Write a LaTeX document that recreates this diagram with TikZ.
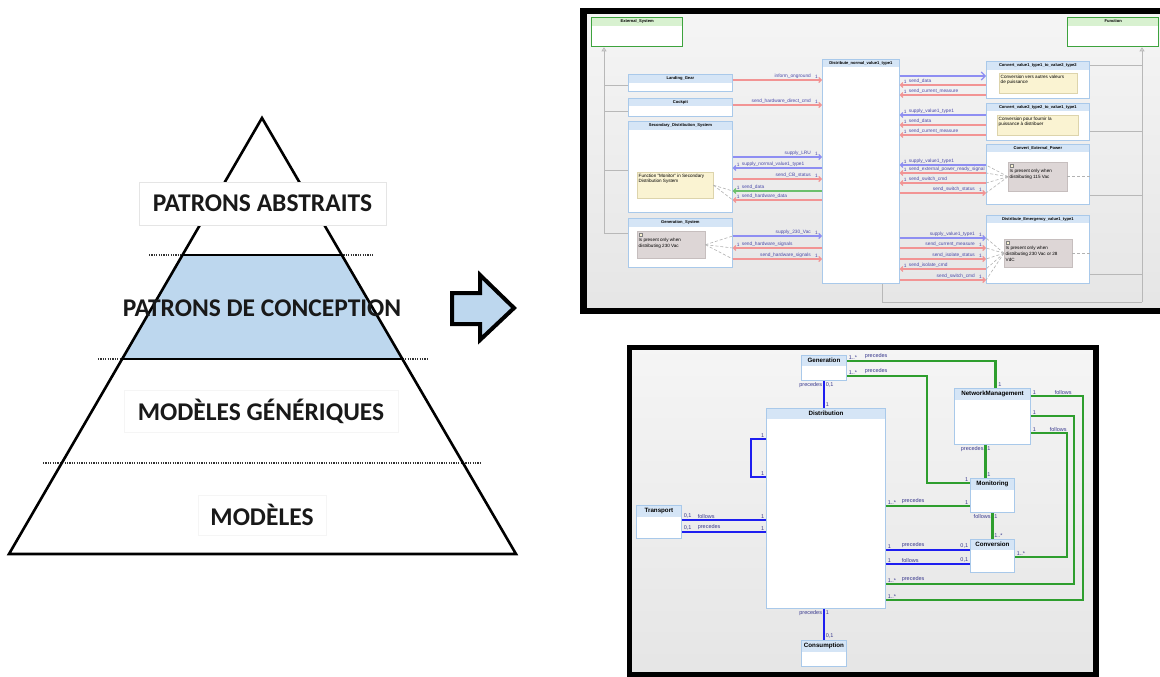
\documentclass[tikz,border=0pt]{standalone}
\usepackage{fontspec}
\setmainfont{Liberation Sans}
\newfontfamily\pyrfont{Carlito}
\usetikzlibrary{arrows.meta,calc}

\definecolor{pyrblue}{HTML}{BDD7EE}
\definecolor{clsline}{HTML}{A9C9EA}
\definecolor{clsbar}{HTML}{D5E5F6}
\definecolor{sysgreen}{HTML}{3DA33D}
\definecolor{sysbar}{HTML}{D8F1D0}
\definecolor{noteY}{HTML}{FAF3D2}
\definecolor{noteYline}{HTML}{DDD4AC}
\definecolor{noteG}{HTML}{DDD6D6}
\definecolor{noteGline}{HTML}{C6BEBE}
\definecolor{sred}{HTML}{F29494}
\definecolor{sblue}{HTML}{8E8EF2}
\definecolor{sgreen}{HTML}{6CBF6C}
\definecolor{labblue}{HTML}{4A4AAA}
\definecolor{inhgray}{HTML}{B8B8B8}
\definecolor{bblue}{HTML}{1E1EF0}
\definecolor{bgreen}{HTML}{2E9E2E}
\definecolor{navy}{HTML}{3A3A8E}

\newcommand{\sigfont}{\fontsize{4.8}{5.2}\selectfont}

\tikzset{
  % pyramid
  pyr/.style={draw=black, line width=2.6pt, line join=miter},
  lvlrule/.style={draw=black, line width=2.4pt},
  sep/.style={draw=black!80, line width=1.2pt, dash pattern=on 1.2pt off 1.2pt},
  lvl/.style={draw=gray!20, fill=white, inner sep=0pt, text=black!90,
    font=\pyrfont\bfseries\fontsize{25.5}{30}\selectfont},
  lvltxt/.style={inner sep=0pt, text=black!90, font=\pyrfont\bfseries\fontsize{25.5}{30}\selectfont},
  bigarrow/.style={draw=black, line width=4pt, fill=pyrblue, line join=miter},
  % screenshots
  frame/.style={draw=black, top color=white!96!black, bottom color=black!10},
  tcls/.style={draw=clsline, fill=white, line width=0.7pt, anchor=north west, inner sep=0pt},
  tcls bar/.style={fill=clsbar},
  tcls title/.style={inner sep=0pt, font=\bfseries\fontsize{4.1}{4.5}\selectfont},
  tsys/.style={draw=sysgreen, fill=white, line width=1.3pt, anchor=north west, inner sep=0pt},
  tsys bar/.style={fill=sysbar},
  tsys title/.style={inner sep=0pt, font=\bfseries\fontsize{4.1}{4.5}\selectfont},
  bcls/.style={draw=clsline, fill=white, line width=0.9pt, anchor=north west, inner sep=0pt},
  bcls bar/.style={fill=clsbar},
  bcls title/.style={inner sep=0pt, font=\bfseries\fontsize{6.2}{7}\selectfont},
  ynote/.style={draw=noteYline, fill=noteY, line width=0.4pt, anchor=north west, inner sep=0pt},
  gnote/.style={draw=noteGline, fill=noteG, line width=0.4pt, anchor=north west, inner sep=0pt},
  ntext/.style={anchor=north west, align=left, inner sep=1.5pt, font=\fontsize{4.6}{5.8}\selectfont},
  icon/.style={draw=black!50, fill=noteY, line width=0.3pt},
  sig/.style={draw=#1, line width=1.1pt, -{Straight Barb[length=2.5pt,width=5pt]}},
  labR/.style={anchor=south east, xshift=-10pt, inner sep=0.6pt, text=labblue, font=\sigfont},
  multR/.style={anchor=south east, xshift=-3pt, inner sep=0.6pt, text=labblue, font=\sigfont},
  labL/.style={anchor=south west, xshift=8pt, inner sep=0.6pt, text=labblue, font=\sigfont},
  multL/.style={anchor=south west, xshift=3pt, inner sep=0.6pt, text=labblue, font=\sigfont},
  inh/.style={draw=inhgray, line width=0.8pt},
  inhtip/.style={inh, -{Triangle[open, length=4pt, width=5pt]}},
  nlink/.style={draw=black!30, line width=0.6pt, dash pattern=on 3pt off 2pt},
  blink/.style={draw=bblue, line width=2.2pt},
  glink/.style={draw=bgreen, line width=2.2pt},
  mlab/.style={inner sep=0.8pt, text=navy, font=\fontsize{5.5}{6}\selectfont}
}

% kind, name, x, y, width, height, title bar, title
\newcommand{\umlbox}[8]{%
  \node[#1, minimum width=#5pt, minimum height=#6pt,
        path picture={\fill[#1 bar] (path picture bounding box.north west)
          rectangle ([yshift=-#7pt]path picture bounding box.north east);}]
    (#2) at (#3,#4) {};
  \node[#1 title] at ($(#2.north)+(0,#7/2)$) {#8};}

% signal to the right: left box, right box, y, colour, label
\newcommand{\sigR}[5]{%
  \draw[sig=#4] (#1.east |- 0,#3) -- (#2.west |- 0,#3)
    node[labR] {#5} node[multR] {1};}
% signal to the left: right box, left box, y, colour, label
\newcommand{\sigL}[5]{%
  \draw[sig=#4] (#1.west |- 0,#3) -- (#2.east |- 0,#3)
    node[labL] {#5} node[multL] {1};}

\begin{document}
\begin{tikzpicture}[x=1pt, y=-1pt]
\useasboundingbox (0,0) rectangle (1160,677);

% ---- pyramid
\coordinate (apex) at (262,118);
\coordinate (bl) at (9,554);
\coordinate (br) at (516,554);
\fill[pyrblue] ($(apex)!0.314!(bl)$) -- ($(apex)!0.314!(br)$)
  -- ($(apex)!0.553!(br)$) -- ($(apex)!0.553!(bl)$) -- cycle;
\draw[sep] (149,255) -- (374,255);
\draw[sep] (98,359) -- (427,359);
\draw[sep] (43,463) -- (480,463);
\draw[lvlrule] ($(apex)!0.314!(bl)$) -- ($(apex)!0.314!(br)$);
\draw[lvlrule] ($(apex)!0.553!(bl)$) -- ($(apex)!0.553!(br)$);
\draw[pyr] (apex) -- (br) -- (bl) -- cycle;
\node[lvl, minimum width=247pt, minimum height=43pt] (pabs) at (262.5,203.5) {PATRONS ABSTRAITS};
\node[lvltxt] (pconc) at (262,308) {PATRONS DE CONCEPTION};
\node[lvl, draw=gray!8, minimum width=274pt, minimum height=42pt] (pgen) at (261,411) {MODÈLES GÉNÉRIQUES};
\node[lvl, draw=gray!8, minimum width=128pt, minimum height=40pt] (pmod) at (262,515) {MODÈLES};

\draw[bigarrow] (452,293) -- (480,293) -- (480,275) -- (514,308) -- (480,340)
  -- (480,324) -- (452,324) -- cycle;

% ---- upper screenshot
\draw[frame, line width=6.5pt] (583.5,11) rectangle (1175,311);

\umlbox{tsys}{ext}{591}{17}{91}{29}{8}{External\_System}
\umlbox{tsys}{fun}{1067}{17}{91}{29}{8}{Function}
\umlbox{tcls}{lg}{628}{74}{104}{17}{9}{Landing\_Gear}
\umlbox{tcls}{ck}{628}{98}{104}{18}{8}{Cockpit}
\umlbox{tcls}{sds}{628}{121}{104}{91}{9}{Secondary\_Distribution\_System}
\umlbox{tcls}{gen}{628}{218}{104}{49}{9}{Generation\_System}
\umlbox{tcls}{dist}{822}{59}{77}{224}{8}{Distribute\_normal\_value1\_type1}
\umlbox{tcls}{cv1}{986}{61}{103}{37}{9}{Convert\_value1\_type1\_to\_value2\_type2}
\umlbox{tcls}{cv2}{986}{103}{103}{37}{8}{Convert\_value2\_type2\_to\_value1\_type1}
\umlbox{tcls}{cep}{986}{144}{103}{60}{8}{Convert\_External\_Power}
\umlbox{tcls}{dem}{986}{215}{103}{68}{8}{Distribute\_Emergency\_value1\_type1}

% inheritance
\coordinate (il) at (604,233);
\draw[inhtip] (il) -- (ext.south -| il);
\foreach \yy/\nd in {85/lg, 111/ck, 170/sds, 233/gen}
  \draw[inh] (il |- 0,\yy) -- (\nd.west |- 0,\yy);
\coordinate (ir) at (1142,302);
\draw[inhtip] (ir) -- (fun.south -| ir);
\draw[inh] (ir) -| ([xshift=22pt]dist.south);
\foreach \yy/\nd in {65/cv1, 131/cv2, 195/cep, 274/dem}
  \draw[inh] (ir |- 0,\yy) -- (\nd.east |- 0,\yy);

% notes
\node[ynote, minimum width=76pt, minimum height=26pt] (nsds) at (637,172) {};
\node[ntext] at (nsds.north west) {Function "Monitor" in Secondary\\Distribution System};
\node[gnote, minimum width=68pt, minimum height=27pt] (ngen) at (637,231) {};
\draw[icon] ([shift={(2pt,-2pt)}]ngen.north west) rectangle ++(3,3);
\node[ntext, yshift=-5.5pt] at (ngen.north west) {Is present only when\\distributing 230 Vac};
\node[ynote, minimum width=78pt, minimum height=20pt] (ncv1) at (999,73) {};
\node[ntext] at (ncv1.north west) {Conversion vers autres valeurs\\de puissance};
\node[ynote, minimum width=81pt, minimum height=20pt] (ncv2) at (997,115) {};
\node[ntext] at (ncv2.north west) {Conversion pour fournir la\\puissance à distribuer};
\node[gnote, minimum width=59pt, minimum height=29pt] (ncep) at (1008,162) {};
\draw[icon] ([shift={(2pt,-2pt)}]ncep.north west) rectangle ++(3,3);
\node[ntext, yshift=-5.5pt] at (ncep.north west) {Is present only when\\distributing 115 Vac};
\node[gnote, minimum width=68pt, minimum height=28pt] (ndem) at (1004,239) {};
\draw[icon] ([shift={(2pt,-2pt)}]ndem.north west) rectangle ++(3,3);
\node[ntext, yshift=-5.5pt] at (ndem.north west) {Is present only when\\distributing 230 Vac or 28\\VdC};

\foreach \yy in {191,200} \draw[nlink] (nsds.east) -- (sds.east |- 0,\yy);
\foreach \yy in {236,248,259} \draw[nlink] (ngen.east) -- (gen.east |- 0,\yy);
\foreach \yy in {165,173,183,193} \draw[nlink] (ncep.west) -- (cep.west |- 0,\yy);
\draw[nlink] (ncep.east) -- (cep.east |- ncep.east);
\foreach \yy in {238,248,259,269,280} \draw[nlink] (ndem.west) -- (dem.west |- 0,\yy);
\draw[nlink] (ndem.east) -- (dem.east |- ndem.east);

% signals, left side
\sigR{lg}{dist}{80}{sred}{inform\_onground}
\sigR{ck}{dist}{105}{sred}{send\_hardware\_direct\_cmd}
\sigR{sds}{dist}{157}{sblue}{supply\_LRU}
\sigL{dist}{sds}{168}{sblue}{supply\_normal\_value1\_type1}
\sigR{sds}{dist}{179}{sred}{send\_CB\_status}
\sigL{dist}{sds}{191}{sgreen}{send\_data}
\sigL{dist}{sds}{200}{sred}{send\_hardware\_data}
\sigR{gen}{dist}{236}{sblue}{supply\_230\_Vac}
\sigL{dist}{gen}{248}{sred}{send\_hardware\_signals}
\sigR{gen}{dist}{259}{sred}{send\_hardware\_signals}
% signals, right side
\draw[sig=sblue, -{Straight Barb[length=4pt,width=8pt]}] (dist.east |- 0,76) -- (cv1.west |- 0,76);
\sigL{cv1}{dist}{85}{sred}{send\_data}
\sigL{cv1}{dist}{95}{sred}{send\_current\_measure}
\sigL{cv2}{dist}{115}{sblue}{supply\_value1\_type1}
\sigL{cv2}{dist}{125}{sred}{send\_data}
\sigL{cv2}{dist}{135}{sred}{send\_current\_measure}
\sigL{cep}{dist}{165}{sblue}{supply\_value1\_type1}
\sigL{cep}{dist}{173}{sred}{send\_external\_power\_ready\_signal}
\sigL{cep}{dist}{183}{sred}{send\_switch\_cmd}
\sigR{dist}{cep}{193}{sred}{send\_switch\_status}
\sigR{dist}{dem}{238}{sblue}{supply\_value1\_type1}
\sigR{dist}{dem}{248}{sred}{send\_current\_measure}
\sigR{dist}{dem}{259}{sred}{send\_isolate\_status}
\sigL{dem}{dist}{269}{sred}{send\_isolate\_cmd}
\sigR{dist}{dem}{280}{sred}{send\_switch\_cmd}

% ---- lower screenshot
\draw[frame, line width=5.5pt] (629.5,347.5) rectangle (1096,674.5);

\umlbox{bcls}{bgen}{801}{355}{45}{25}{11}{Generation}
\umlbox{bcls}{bdist}{766}{408}{119}{200}{11}{Distribution}
\umlbox{bcls}{btr}{636}{505}{45}{33}{12}{Transport}
\umlbox{bcls}{bcons}{801}{640}{45}{26}{12}{Consumption}
\umlbox{bcls}{bnm}{954}{388}{76}{56}{12}{NetworkManagement}
\umlbox{bcls}{bmon}{970}{478}{44}{34}{12}{Monitoring}
\umlbox{bcls}{bconv}{970}{539}{44}{33}{11}{Conversion}

\draw[blink] (bgen.south) node[mlab, anchor=north east] {precedes} node[mlab, anchor=north west] {0,1}
  -- (bgen.south |- bdist.north) node[mlab, anchor=south west] {1};
\draw[blink] (bdist.west |- 0,439) node[mlab, anchor=south east] {1} -- ++(-15,0)
  |- (bdist.west |- 0,477) node[mlab, anchor=south east] {1};
\draw[blink] (btr.east |- 0,520) node[mlab, anchor=south west] {0,1} node[mlab, anchor=south west, xshift=14pt] {follows}
  -- (bdist.west |- 0,520) node[mlab, anchor=south east] {1};
\draw[blink] (btr.east |- 0,532) node[mlab, anchor=south west] {0,1} node[mlab, anchor=south west, xshift=14pt] {precedes}
  -- (bdist.west |- 0,532) node[mlab, anchor=south east] {1};
\draw[blink] (bcons.north |- bdist.south) node[mlab, anchor=north east] {precedes} node[mlab, anchor=north west] {1}
  -- (bcons.north) node[mlab, anchor=south west] {0,1};
\draw[blink] (bdist.east |- 0,550) node[mlab, anchor=south west] {1} node[mlab, anchor=south west, xshift=14pt] {precedes}
  -- (bconv.west |- 0,550) node[mlab, anchor=south east] {0,1};
\draw[blink] (bdist.east |- 0,564) node[mlab, anchor=south west] {1} node[mlab, anchor=south west, xshift=14pt] {follows}
  -- (bconv.west |- 0,564) node[mlab, anchor=south east] {0,1};

\draw[glink] (bgen.east |- 0,361) node[mlab, anchor=south west] {1..*} node[mlab, anchor=south west, xshift=16pt] {precedes}
  -| ([xshift=3pt]bnm.north) node[mlab, anchor=south west, xshift=1pt] {1};
\draw[glink] (bgen.east |- 0,376) node[mlab, anchor=south west] {1..*} node[mlab, anchor=south west, xshift=16pt] {precedes}
  -- ++(80,0) |- (bmon.west |- 0,483) node[mlab, anchor=south east] {1};
\draw[glink] ([xshift=-7pt]bnm.south) node[mlab, anchor=north east] {precedes} node[mlab, anchor=north west] {1}
  -- ([xshift=-7pt]bmon.north) node[mlab, anchor=south west] {1};
\draw[glink] (bdist.east |- 0,506) node[mlab, anchor=south west] {1..*} node[mlab, anchor=south west, xshift=14pt] {precedes}
  -- (bmon.west |- 0,506) node[mlab, anchor=south east] {1};
\draw[glink] (bmon.south) node[mlab, anchor=north east] {follows} node[mlab, anchor=north west] {1}
  -- (bconv.north) node[mlab, anchor=south west] {1..*};
\draw[glink] (bnm.east |- 0,396) node[mlab, anchor=south west] {1} node[mlab, anchor=south west, xshift=22pt] {follows}
  -- ++(52,0) |- (bdist.east |- 0,600) node[mlab, anchor=south west] {1..*};
\draw[glink] (bnm.east |- 0,416) node[mlab, anchor=south west] {1}
  -- ++(43,0) |- (bdist.east |- 0,584) node[mlab, anchor=south west] {1..*} node[mlab, anchor=south west, xshift=14pt] {precedes};
\draw[glink] (bnm.east |- 0,433) node[mlab, anchor=south west] {1} node[mlab, anchor=south west, xshift=17pt] {follows}
  -- ++(36,0) |- (bconv.east |- 0,557) node[mlab, anchor=south west] {1..*};
\end{tikzpicture}
\end{document}
